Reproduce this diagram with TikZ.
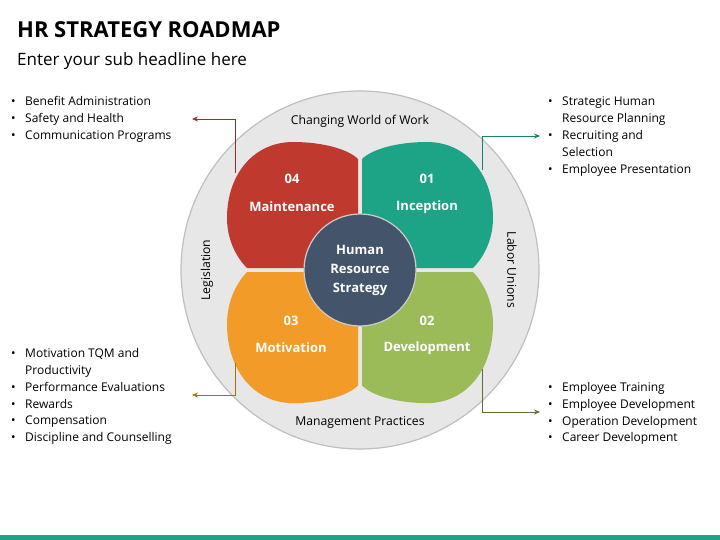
\documentclass[tikz,border=0pt]{standalone}
\usepackage{fontspec}
\setmainfont{Open Sans}
\usetikzlibrary{arrows.meta}
\definecolor{cred}{HTML}{BF392F}
\definecolor{cteal}{HTML}{1DA386}
\definecolor{corange}{HTML}{F29B29}
\definecolor{cgreen}{HTML}{9BBB59}
\definecolor{cdark}{HTML}{44546A}
\definecolor{cring}{HTML}{E7E7E7}
\tikzset{
  petal/.pic={\path[pic actions] (2,-2) -- (2,-111) .. controls (12,-121) and (38,-128) .. (67,-128)
     .. controls (106,-128) and (133,-96) .. (133,-52) .. controls (133,-32) and (125,-14) .. (113,-2) -- cycle;},
  pnum/.style={text=white,font=\bfseries\fontsize{13}{15}\selectfont},
  ring/.style={font=\fontsize{12.2}{14}\selectfont},
  bul/.style={anchor=base west,inner sep=0,font=\fontsize{12}{14}\selectfont},
  conn/.style={line width=0.7pt,-{Stealth[length=6pt,width=5pt]}}
}
\begin{document}
\begin{tikzpicture}[x=1pt,y=-1pt]
\useasboundingbox (0,0) rectangle (720,540);
\fill[white] (0,0) rectangle (720,540);
\fill[cteal] (0,535) rectangle (720,540);
\node[anchor=base west,inner sep=0,font=\bfseries\fontsize{22}{26}\selectfont] (title) at (17,38) {HR STRATEGY ROADMAP};
\node[anchor=base west,inner sep=0,font=\fontsize{17}{20}\selectfont] (sub) at (17,66) {Enter your sub headline here};
\node[circle,fill=cring,draw=black!25,line width=1.2pt,minimum size=358] (ring) at (360,270) {};
\pic[fill=cteal] at (360,270) {petal};
\pic[fill=cred,xscale=-1] at (360,270) {petal};
\pic[fill=cgreen,yscale=-1.04] at (360,270) {petal};
\pic[fill=corange,xscale=-1,yscale=-1.04] at (360,270) {petal};
\node[circle,fill=cdark,draw=black!20,line width=1.2pt,minimum size=112,align=center,text=white,font=\bfseries\fontsize{13}{19}\selectfont] (hub) at (360,270) {Human\\Resource\\Strategy};
\node[pnum] (n4) at (292,179) {04}; \node[pnum] (l4) at (292,207) {Maintenance};
\node[pnum] (n1) at (427,179) {01}; \node[pnum] (l1) at (427,207) {Inception};
\node[pnum] (n3) at (291,321) {03}; \node[pnum] (l3) at (291,348) {Motivation};
\node[pnum] (n2) at (427,321) {02}; \node[pnum] (l2) at (427,348) {Development};
\node[ring] (r1) at (360,121) {Changing World of Work};
\node[ring] (r2) at (360,422) {Management Practices};
\node[ring,rotate=90] (r3) at (207,270) {Legislation};
\node[ring,rotate=-90] (r4) at (512,270) {Labor Unions};
% connectors
\coordinate (a1) at (235,173); \coordinate (a1e) at (192,119);
\coordinate (b1) at (482,170); \coordinate (b1e) at (540,136);
\coordinate (c1) at (235,363); \coordinate (c1e) at (192,395);
\coordinate (d1) at (482,369); \coordinate (d1e) at (540,412);
\draw[conn,draw=cred!80!black] (a1) |- (a1e);
\draw[conn,draw=cteal!80!black] (b1) |- (b1e);
\draw[conn,draw=corange!70!black] (c1) |- (c1e);
\draw[conn,draw=cgreen!60!black] (d1) |- (d1e);
% bullets
\foreach \t/\y in {Benefit Administration/106,Safety and Health/123,Communication Programs/140}{
  \node[bul] at (11,\y) {•}; \node[bul] at (25,\y) {\t};}
\foreach \t/\y/\b in {Strategic Human/106/1,Resource Planning/123/0,Recruiting and/140/1,Selection/157/0,Employee Presentation/174/1}{
  \ifnum\b=1 \node[bul] at (548,\y) {•};\fi \node[bul] at (562,\y) {\t};}
\foreach \t/\y/\b in {Motivation TQM and/357/1,Productivity/374/0,Performance Evaluations/391/1,Rewards/408/1,Compensation/424/1,Discipline and Counselling/441/1}{
  \ifnum\b=1 \node[bul] at (11,\y) {•};\fi \node[bul] at (25,\y) {\t};}
\foreach \t/\y in {Employee Training/391,Employee Development/408,Operation Development/425,Career Development/441}{
  \node[bul] at (548,\y) {•}; \node[bul] at (562,\y) {\t};}
\end{tikzpicture}
\end{document}
